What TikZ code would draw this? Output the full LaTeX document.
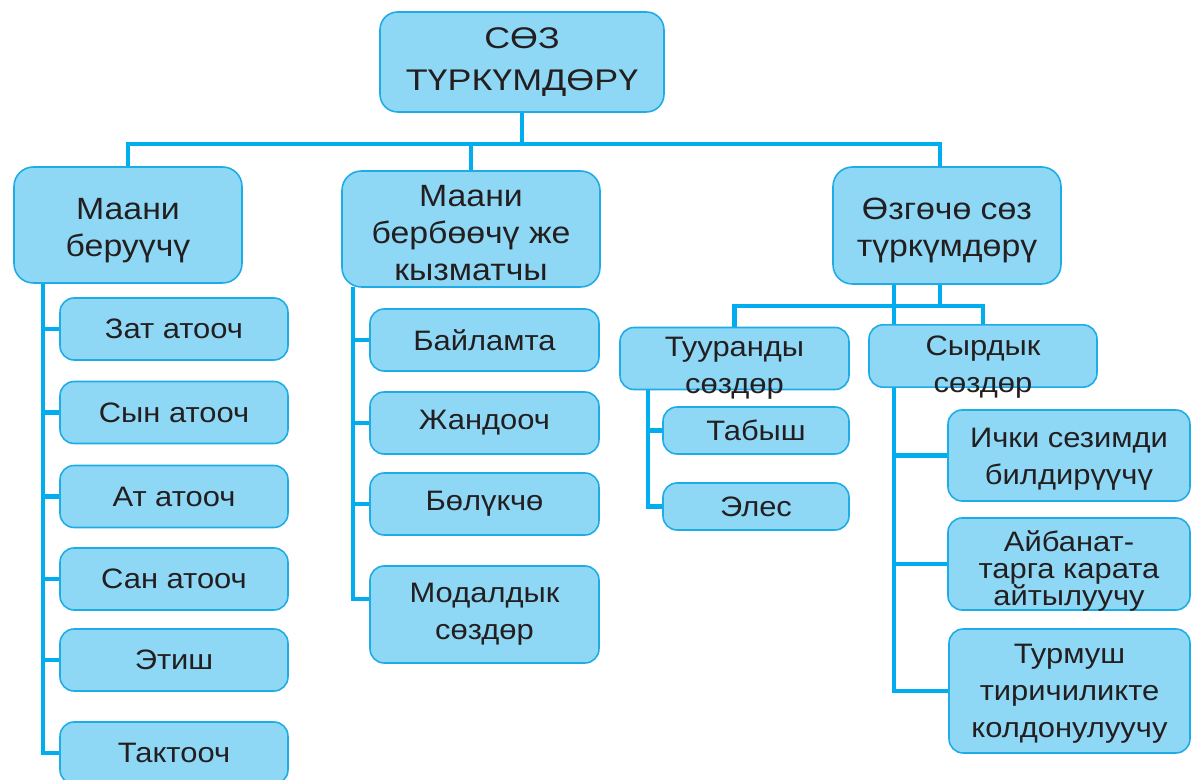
\documentclass[tikz,border=0pt]{standalone}
\usepackage{fontspec}
\setmainfont{Liberation Sans}[FakeStretch=1.1]
\newfontfamily\rootfont{Liberation Sans}[FakeStretch=1.2]
\usetikzlibrary{backgrounds}
\definecolor{boxfill}{RGB}{142,216,246}
\definecolor{boxline}{RGB}{30,172,230}
\definecolor{conncol}{RGB}{0,174,239}
\definecolor{txt}{RGB}{35,31,32}
\newcommand\dn[2]{\raisebox{-#1}[\height][\depth]{#2}}
\tikzset{
  box/.style={draw=boxline, line width=0.9pt, fill=boxfill, text=txt, align=center, inner sep=0pt},
  leaf/.style={box, rounded corners=8pt, font=\fontsize{16}{21}\selectfont},
  head/.style={box, rounded corners=11pt, font=\fontsize{17.5}{21}\selectfont},
  conn/.style={draw=conncol, line width=2.3pt},
}
\begin{document}
\begin{tikzpicture}[x=0.02cm,y=-0.02cm]
\useasboundingbox (0,0) rectangle (1191,780);
% root
\node[box, rounded corners=10pt, font=\rootfont\fontsize{17}{24}\selectfont, minimum width=5.68cm, minimum height=2.0cm] (root) at (522,62) {СӨЗ\\ТҮРКҮМДӨРҮ};
% headers
\node[head, minimum width=4.56cm, minimum height=2.32cm] (h1) at (128,225) {\dn{3.4pt}{Маани}\\\dn{3.4pt}{беруүчү}};
\node[head, minimum width=5.16cm, minimum height=2.32cm] (h2) at (471,229) {\dn{2.3pt}{Маани}\\\dn{2.3pt}{бербөөчү же}\\\dn{2.3pt}{кызматчы}};
\node[head, minimum width=4.56cm, minimum height=2.34cm] (h3) at (947,225.5) {\dn{2.8pt}{Өзгөчө сөз}\\\dn{2.8pt}{түркүмдөрү}};
% column 1
\foreach \n/\y/\t in {zat/329/Зат атооч, syn/412.5/Сын атооч, at/496.5/Ат атооч, san/579/Сан атооч, etish/660/Этиш, takt/753/Тактооч}{
  \node[leaf, minimum width=4.56cm, minimum height=1.24cm] (\n) at (174,\y) {\t};
}
% column 2
\foreach \n/\y/\t in {bail/340/Байламта, jand/423/Жандооч, bol/504/Бөлүкчө}{
  \node[leaf, minimum width=4.58cm, minimum height=1.24cm] (\n) at (484.5,\y) {\t};
}
\node[leaf, minimum width=4.58cm, minimum height=1.94cm] (mod) at (484.5,614.5) {Модалдык\\сөздөр};
% column 3
\node[leaf, minimum width=4.58cm, minimum height=1.22cm] (tuur) at (734.5,358.5) {\dn{5.7pt}{Тууранды}\\\dn{5.7pt}{сөздөр}};
\node[leaf, minimum width=4.56cm, minimum height=1.24cm] (syrd) at (983,356) {\dn{6.2pt}{Сырдык}\\\dn{6.2pt}{сөздөр}};
\node[leaf, minimum width=3.72cm, minimum height=0.94cm] (tab) at (756,430.5) {Табыш};
\node[leaf, minimum width=3.72cm, minimum height=0.94cm] (eles) at (756,506.5) {Элес};
\node[leaf, minimum width=4.84cm, minimum height=1.82cm] (ichki) at (1069,455.5) {\dn{2.3pt}{Ички сезимди}\\\dn{2.3pt}{билдирүүчү}};
\node[leaf, minimum width=4.84cm, minimum height=1.84cm, font=\fontsize{16}{15.6}\selectfont] (aib) at (1069,564) {\dn{4pt}{Айбанат-}\\\dn{4pt}{тарга карата}\\\dn{4pt}{айтылуучу}};
\node[leaf, minimum width=4.82cm, minimum height=2.48cm] (turm) at (1069.5,691) {\dn{1.7pt}{Турмуш}\\\dn{1.7pt}{тиричиликте}\\\dn{1.7pt}{колдонулуучу}};
% connectors
\coordinate (bus) at (0,144);
\coordinate (t1) at (43,283);
\coordinate (t2) at (353,287);
\coordinate (t3) at (894,284);
\coordinate (t4) at (648,389);
\coordinate (bus3) at (0,306);
\coordinate (j3) at (940,284);
\coordinate (mj) at (370,599);
\begin{pgfonlayer}{background}
\draw[conn] (h1.north) |- (bus -| j3) -- (j3);
\draw[conn] (root.south) -- (root.south |- bus);
\draw[conn] (h2.north) -- (h2.north |- bus);
% column 1
\draw[conn] (t1) |- (takt.west);
\foreach \n in {zat,syn,at,san,etish}{\draw[conn] (\n.west) -- (\n.west -| t1);}
% column 2
\draw[conn] (t2) |- (mj);
\foreach \n in {bail,jand,bol}{\draw[conn] (\n.west) -- (\n.west -| t2);}
% column 3
\draw[conn] (j3) -- (j3 |- bus3);
\draw[conn] (tuur.north) |- (bus3 -| syrd.north) -- (syrd.north);
\draw[conn] (t3) |- (turm.west);
\foreach \n in {ichki,aib}{\draw[conn] (\n.west) -- (\n.west -| t3);}
\draw[conn] (t4) |- (eles.west);
\draw[conn] (tab.west) -- (tab.west -| t4);
\end{pgfonlayer}
\end{tikzpicture}
\end{document}
